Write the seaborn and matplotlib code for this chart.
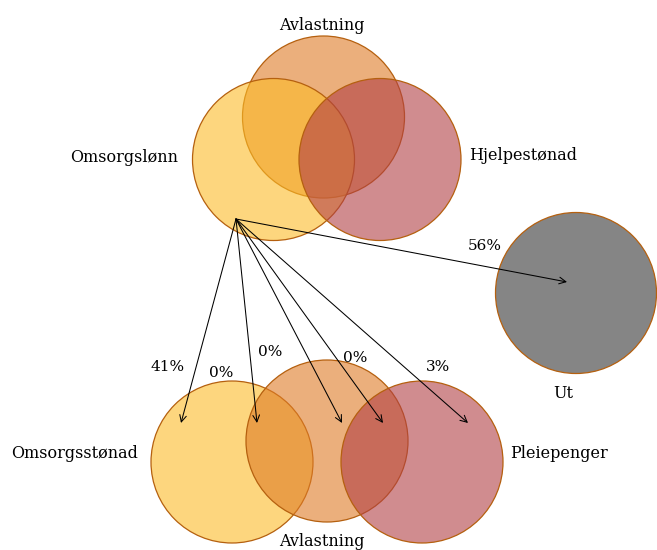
import matplotlib
matplotlib.use("Agg")
import matplotlib.pyplot as plt
from matplotlib.patches import Circle
from matplotlib.colors import to_rgba
import seaborn as sns

# group labels and flow shares
top_sets = ["Avlastning", "Omsorgslønn", "Hjelpestønad"]
bottom_sets = ["Omsorgsstønad", "Avlastning", "Pleiepenger"]
out_label = "Ut"
flow_targets = ["Omsorgsstønad", "Omsorgsstønad ∩ Avlastning", "Avlastning",
                "Avlastning ∩ Pleiepenger", "Pleiepenger", "Ut"]
flow_pct = [41, 0, 0, 0, 3, 56]

# layout (pixel coordinates of the original picture)
R = 81
top_xy = {"Avlastning": (323.5, 117), "Omsorgslønn": (273.5, 159.5), "Hjelpestønad": (380, 159.5)}
bottom_xy = {"Omsorgsstønad": (232, 462), "Avlastning": (327, 441), "Pleiepenger": (422, 462)}
out_xy = (576, 293)
colors = {"Omsorgslønn": "#FCBC28", "Omsorgsstønad": "#FCBC28",
          "Avlastning": "#DE7B25", "Hjelpestønad": "#B23F44", "Pleiepenger": "#B23F44"}
edge = "#B5600F"

arrow_origin = (236, 219)
arrow_ends = [(181, 423), (257, 423), (342, 423), (383, 423), (468, 423), (567, 282)]
pct_xy = [(168, 367), (221, 373), (270, 352), (355, 358), (438, 367), (485, 246)]

sns.set_style("white")
plt.rcParams["font.family"] = ["DejaVu Serif"]

fig = plt.figure(figsize=(6.57, 5.5), dpi=100)
ax = fig.add_axes([0, 0, 1, 1])
ax.set_xlim(0, 657)
ax.set_ylim(550, 0)
ax.set_aspect("equal")
ax.axis("off")


def venn_circle(xy, name):
    ax.add_patch(Circle(xy, R, facecolor=to_rgba(colors[name], 0.6),
                        edgecolor=edge, lw=0.9))


for name in top_sets:
    venn_circle(top_xy[name], name)

for name in bottom_sets:
    venn_circle(bottom_xy[name], name)

ax.add_patch(Circle(out_xy, 80.5, facecolor="#858585", edgecolor=edge, lw=0.9))

for end, (tx, ty), p in zip(arrow_ends, pct_xy, flow_pct):
    ax.annotate("", xy=end, xytext=arrow_origin,
                arrowprops=dict(arrowstyle="->", color="black", lw=0.75,
                                shrinkA=0, shrinkB=0, mutation_scale=12))
    ax.text(tx, ty, f"{p}%", ha="center", va="center", fontsize=11, color="black")

fs = 11.5
ax.text(322, 26, "Avlastning", ha="center", va="center", fontsize=fs, color="black")
ax.text(178, 157, "Omsorgslønn", ha="right", va="center", fontsize=fs, color="black")
ax.text(469, 156, "Hjelpestønad", ha="left", va="center", fontsize=fs, color="black")
ax.text(563, 394, out_label, ha="center", va="center", fontsize=fs, color="black")
ax.text(138, 453, "Omsorgsstønad", ha="right", va="center", fontsize=fs, color="black")
ax.text(510, 454, "Pleiepenger", ha="left", va="center", fontsize=fs, color="black")
ax.text(322, 542, "Avlastning", ha="center", va="center", fontsize=fs, color="black")

fig.savefig("out.png", dpi=100)
